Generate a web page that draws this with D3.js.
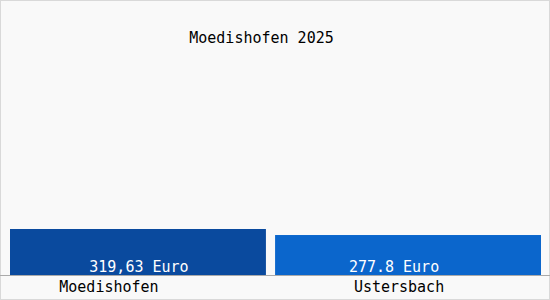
<!DOCTYPE html>
<html><head><meta charset="utf-8">
<script src="https://cdn.jsdelivr.net/npm/d3@7"></script>
<style>html,body{margin:0;padding:0;background:#fff;}svg{display:block;}</style>
</head><body>
<script>
const categories = ["Moedishofen", "Ustersbach"];
const values = [319.63, 277.8];
const valueLabels = ["319,63 Euro", "277.8 Euro"];
const title = "Moedishofen 2025";
const colors = ["#0a4a9e", "#0b66cc"];

const W = 550, H = 300;
const svg = d3.select("body").append("svg").attr("width", W).attr("height", H);
svg.append("rect").attr("x", 0.5).attr("y", 0.5).attr("width", W - 1).attr("height", H - 1)
  .attr("fill", "#f9f9f9").attr("stroke", "#d9d9d9");

const x = d3.scaleBand().domain(categories).range([10, 541]).paddingInner(9 / 265.5).paddingOuter(0);
const y = d3.scaleLinear().domain([0, 2000]).range([275, -12.8]);
// small per-bar edge adjustments to match reference layout
const xAdj = [0, -5], wAdj = [-5, 5];
const cx = i => x(categories[i]) + xAdj[i] + (x.bandwidth() + wAdj[i]) / 2;

svg.selectAll("rect.bar").data(values).join("rect").attr("class", "bar")
  .attr("x", (d, i) => x(categories[i]) + xAdj[i]).attr("width", (d, i) => x.bandwidth() + wAdj[i])
  .attr("y", d => y(d)).attr("height", d => y(0) - y(d))
  .attr("fill", (d, i) => colors[i]);

svg.append("line").attr("x1", 0).attr("x2", W).attr("y1", 275.5).attr("y2", 275.5)
  .attr("stroke", "#aaa");

const font = "'DejaVu Sans Mono', monospace";
const valDx = [1, -14], catDx = [-29, -9];
svg.selectAll("text.val").data(valueLabels).join("text").attr("class", "val")
  .attr("x", (d, i) => cx(i) + valDx[i]).attr("y", 272)
  .attr("text-anchor", "middle").attr("fill", "#fff")
  .style("font-family", font).style("font-size", "15px").text(d => d);

svg.selectAll("text.cat").data(categories).join("text").attr("class", "cat")
  .attr("x", (d, i) => cx(i) + catDx[i]).attr("y", 292)
  .attr("text-anchor", "middle").attr("fill", "#000")
  .style("font-family", font).style("font-size", "15px").text(d => d);

svg.append("text").attr("x", 261.5).attr("y", 43).attr("text-anchor", "middle")
  .attr("fill", "#000").style("font-family", font).style("font-size", "15px").text(title);
</script>
</body></html>
